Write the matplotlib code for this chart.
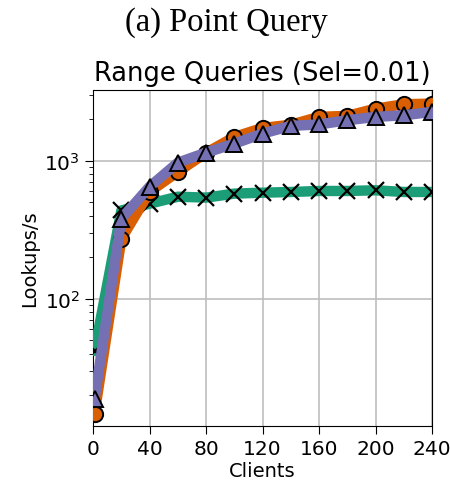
import matplotlib
matplotlib.use("Agg")
import matplotlib.pyplot as plt

clients = [1, 20, 40, 60, 80, 100, 120, 140, 160, 180, 200, 220, 240]
orange_vals = [14.7, 272, 596, 830, 1140, 1485, 1725, 1820, 2075, 2110, 2380, 2560, 2590]
green_vals = [42, 436, 488, 548, 540, 577, 586, 593, 603, 603, 610, 593, 593]
purple_vals = [18.8, 380, 648, 967, 1143, 1328, 1570, 1785, 1830, 1960, 2075, 2130, 2255]

xticks = [0, 40, 80, 120, 160, 200, 240]

fig = plt.figure(figsize=(4.5, 4.89), dpi=100)
ax = fig.add_axes([0.207, 0.127, 0.753, 0.687])

lw = 7.5
ax.plot(clients, green_vals, color="#1b9e77", lw=lw, marker="x", ms=11,
        mec="black", mew=1.6, zorder=3)
ax.plot(clients, orange_vals, color="#d95f02", lw=lw, marker="o", ms=11,
        mfc="#d95f02", mec="black", mew=1.4, zorder=3)
ax.plot(clients, purple_vals, color="#7570b3", lw=lw, marker="^", ms=12,
        mfc="#7570b3", mec="black", mew=1.4, zorder=4)

ax.set_yscale("log")
ax.set_xlim(0, 240)
ax.set_ylim(12, 3250)
ax.set_xticks(xticks)
ax.set_xticklabels([str(t) for t in xticks])
ax.grid(True, which="major", color="#bdbdbd", lw=1.2)
ax.set_axisbelow(True)
ax.tick_params(labelsize=14.5)
ax.tick_params(which="major", length=6)
ax.tick_params(which="minor", length=3)
ax.set_xlabel("Clients", fontsize=14, labelpad=2)
ax.set_ylabel("Lookups/s", fontsize=14)
ax.set_title("Range Queries (Sel=0.01)", fontsize=18.5, pad=7)

fig.text(0.503, 0.953, "(a) Point Query", family="Liberation Serif",
         fontsize=23.5, ha="center", va="center")

fig.savefig("out.png", dpi=100)
